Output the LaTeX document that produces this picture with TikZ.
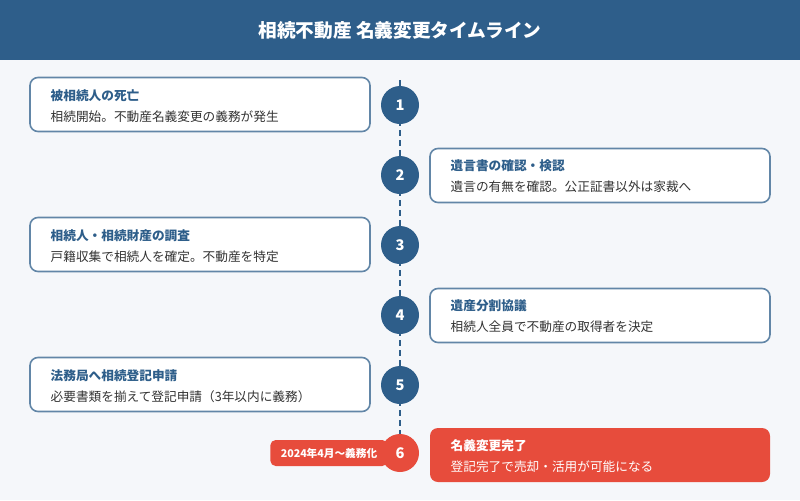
\documentclass[tikz,border=0pt]{standalone}
\usepackage{fontspec}
\setmainfont{Noto Sans CJK JP}
\begin{document}
\definecolor{navy}{HTML}{2E5E8A}
\definecolor{bg}{HTML}{F5F7FA}
\definecolor{redc}{HTML}{E74C3C}
\definecolor{txt}{HTML}{333333}
\begin{tikzpicture}[x=0.75pt,y=-0.75pt,
  box/.style={draw=navy!75,line width=1.2pt,fill=white,rounded corners=6pt,minimum width=255pt,minimum height=40.5pt,inner sep=0pt},
  rbox/.style={fill=redc,rounded corners=6pt,minimum width=255pt,minimum height=40.5pt,inner sep=0pt},
  num/.style={circle,fill=navy,minimum size=28.5pt,inner sep=0pt,text=white,font=\bfseries\fontsize{11}{12}\selectfont},
  ttl/.style={anchor=west,font=\bfseries\fontsize{9.5}{11}\selectfont,text=navy},
  sub/.style={anchor=west,font=\fontsize{9.5}{11}\selectfont,text=txt}]
\fill[bg] (0,0) rectangle (800,500);
\fill[navy] (0,0) rectangle (800,60);
\node[text=white,font=\bfseries\fontsize{14}{16}\selectfont] (title) at (400,30) {相続不動産 名義変更タイムライン};
\coordinate (top) at (400,80);
\coordinate (bot) at (400,440);
\draw[navy,line width=2.2pt,dash pattern=on 4.5pt off 3pt] (top) -- (bot);
% boxes
\node[box] (b1) at (200,104.5) {};
\node[box] (b2) at (600,175.5) {};
\node[box] (b3) at (200,244.5) {};
\node[box] (b4) at (600,315.5) {};
\node[box] (b5) at (200,384.5) {};
\node[rbox] (b6) at (600,455) {};
\foreach \i/\x/\y/\t/\s in {1/46/96/被相続人の死亡/相続開始。不動産名義変更の義務が発生,
  2/446/166/遺言書の確認・検認/遺言の有無を確認。公正証書以外は家裁へ,
  3/46/236/相続人・相続財産の調査/戸籍収集で相続人を確定。不動産を特定,
  4/446/306/遺産分割協議/相続人全員で不動産の取得者を決定,
  5/46/376/法務局へ相続登記申請/必要書類を揃えて登記申請（3年以内に義務）}{
  \node[ttl] (t\i) at (\x,\y) {\t};
  \node[sub] (s\i) at (\x,\y+21) {\s};
}
\node[ttl,text=white] (t6) at (446,446) {名義変更完了};
\node[sub,text=white] (s6) at (446,467) {登記完了で売却・活用が可能になる};
\foreach \i/\y in {1/105,2/175,3/245,4/315,5/385}{\node[num] (n\i) at (400,\y) {\i};}
\node[num,fill=redc] (n6) at (400,453) {6};
\node[fill=redc,rounded corners=4pt,minimum width=88pt,minimum height=19.5pt,inner sep=0pt,text=white,font=\bfseries\fontsize{8}{9}\selectfont] (badge) at (329,453) {2024年4月〜義務化};
\end{tikzpicture}
\end{document}
